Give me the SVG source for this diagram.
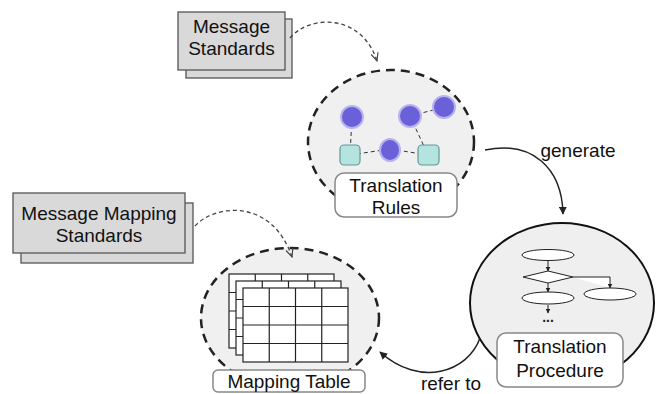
<svg xmlns="http://www.w3.org/2000/svg" width="663" height="394" viewBox="0 0 663 394">
<defs>
<style>
.t{font-family:"Liberation Sans",Arial,sans-serif;font-size:19px;fill:#111;text-anchor:middle}
.doc{fill:#d9d9d9;stroke:#555;stroke-width:1.3}
.lbl{fill:#fff;stroke:#888;stroke-width:1.5}
.dash{fill:#f0f0f0;stroke:#222;stroke-width:2.5;stroke-dasharray:9 6}
.dc{fill:none;stroke:#444;stroke-width:1.3;stroke-dasharray:4 3}
.ln{fill:none;stroke:#222;stroke-width:1.5}
.fl{fill:#fff;stroke:#222;stroke-width:1}
.dot{fill:#6a60d8;stroke:#b8b2f0;stroke-width:2}
.sq{fill:#b5e3e0;stroke:#5f9a95;stroke-width:1.2}
.el{stroke:#333;stroke-width:1;stroke-dasharray:4 3}
.grid{fill:#fff;stroke:#222;stroke-width:1.2}
</style>
<marker id="ah" viewBox="0 0 10 10" refX="9" refY="5" markerWidth="8" markerHeight="8" orient="auto" markerUnits="userSpaceOnUse"><path d="M0,0 L10,5 L0,10 z" fill="#222"/></marker>
<marker id="vh" viewBox="0 0 10 10" refX="9" refY="5" markerWidth="9" markerHeight="9" orient="auto" markerUnits="userSpaceOnUse"><path d="M0,1 L9,5 L0,9" fill="none" stroke="#444" stroke-width="1.3"/></marker>
<marker id="sh" viewBox="0 0 10 10" refX="9" refY="5" markerWidth="5" markerHeight="5" orient="auto" markerUnits="userSpaceOnUse"><path d="M0,0 L10,5 L0,10 z" fill="#222"/></marker>
<g id="gridpat">
<rect class="grid" x="0" y="0" width="105" height="74"/>
<path class="grid" d="M26.25,0V74M52.5,0V74M78.75,0V74M0,18.5H105M0,37H105M0,55.5H105"/>
</g>
</defs>
<rect width="663" height="394" fill="#fff"/>

<g id="message-standards">
<rect class="doc" x="186" y="19" width="106" height="59"/>
<rect class="doc" x="178" y="12" width="107" height="58"/>
<text class="t" x="231.5" y="33">Message</text>
<text class="t" x="231.5" y="55">Standards</text>
</g>

<g id="message-mapping-standards">
<rect class="doc" x="21" y="203" width="172" height="60"/>
<rect class="doc" x="13" y="193" width="172" height="60"/>
<text class="t" x="99" y="220">Message Mapping</text>
<text class="t" x="99" y="242">Standards</text>
</g>

<g id="translation-rules">
<ellipse class="dash" cx="391" cy="142" rx="83" ry="72"/>
<line class="el" x1="352" y1="118" x2="350" y2="155"/>
<line class="el" x1="350" y1="155" x2="390" y2="149"/>
<line class="el" x1="390" y1="149" x2="428" y2="155"/>
<line class="el" x1="410" y1="116" x2="428" y2="155"/>
<line class="el" x1="410" y1="116" x2="445" y2="107"/>
<circle class="dot" cx="352" cy="117" r="11"/>
<circle class="dot" cx="410" cy="116" r="11"/>
<circle class="dot" cx="444" cy="107" r="11"/>
<ellipse class="dot" cx="390" cy="150" rx="10" ry="11"/>
<rect class="sq" x="340" y="145" width="20" height="20" rx="4"/>
<rect class="sq" x="418" y="145" width="21" height="20" rx="4"/>
<rect class="lbl" x="335" y="173" width="122" height="44" rx="9"/>
<text class="t" x="396" y="192">Translation</text>
<text class="t" x="396" y="214">Rules</text>
</g>

<g id="translation-procedure">
<ellipse cx="562" cy="303" rx="92" ry="80" fill="#efefef" stroke="#111" stroke-width="2"/>
<ellipse class="fl" cx="548" cy="255" rx="26" ry="5.5"/>
<line class="fl" x1="548" y1="261" x2="548" y2="271" marker-end="url(#sh)"/>
<path class="fl" d="M523,277 L548,271 L573,277 L548,283 z"/>
<path class="fl" d="M573,277 H610 V288" fill="none" marker-end="url(#sh)"/>
<ellipse class="fl" cx="610" cy="294" rx="26" ry="6"/>
<line class="fl" x1="548" y1="283" x2="548" y2="292" marker-end="url(#sh)"/>
<ellipse class="fl" cx="548" cy="298" rx="26" ry="6"/>
<line class="fl" x1="548" y1="305" x2="548" y2="313" marker-end="url(#sh)"/>
<text x="548" y="322" font-family="Liberation Sans,Arial,sans-serif" font-size="14" font-weight="bold" text-anchor="middle" fill="#222">...</text>
<rect class="lbl" x="497" y="333" width="126" height="54" rx="9"/>
<text class="t" x="560" y="353">Translation</text>
<text class="t" x="560" y="377">Procedure</text>
</g>

<g id="mapping-table">
<ellipse class="dash" cx="290" cy="318" rx="89" ry="70"/>
<use href="#gridpat" x="229" y="274"/>
<use href="#gridpat" x="236" y="281"/>
<use href="#gridpat" x="243" y="288"/>
<rect class="lbl" x="213" y="370" width="152" height="22" rx="5"/>
<text class="t" x="289" y="388">Mapping Table</text>
</g>

<g id="connectors">
<path class="dc" d="M290,38 C310,14 362,14 377,61" marker-end="url(#vh)"/>
<path class="dc" d="M195,226 C215,204 272,198 292,257" marker-end="url(#vh)"/>
<path class="ln" d="M485,150 C532,140 562,168 563,214" marker-end="url(#ah)"/>
<path class="ln" d="M480,338 C468,372 420,388 380,352" marker-end="url(#ah)"/>
<text class="t" x="578" y="157">generate</text>
<text class="t" x="451" y="390">refer to</text>
</g>
</svg>
